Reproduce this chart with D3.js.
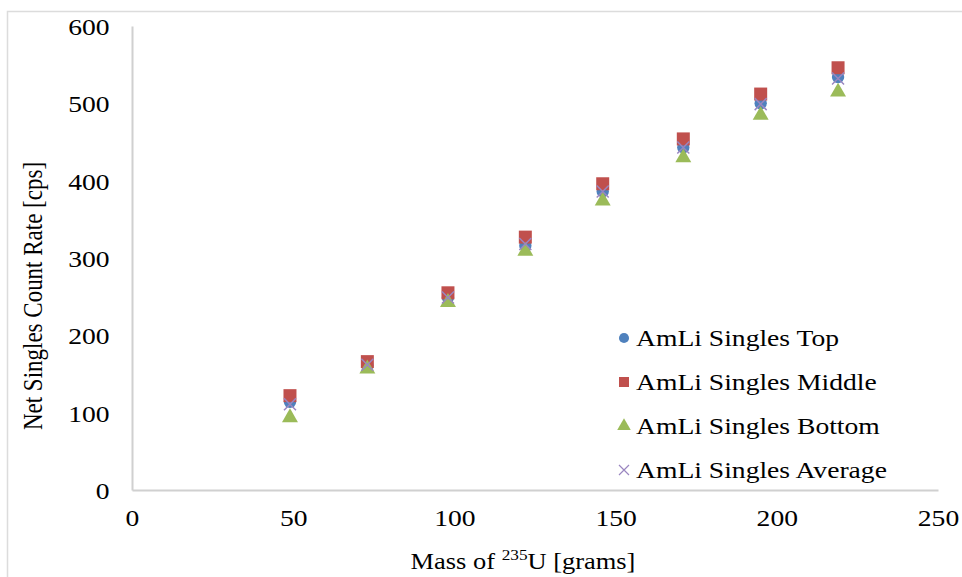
<!DOCTYPE html>
<html>
<head>
<meta charset="utf-8">
<script src="https://cdn.jsdelivr.net/npm/d3@7"></script>
<style>
html,body{margin:0;padding:0;background:#fff;}
text{font-family:"Liberation Serif","Times New Roman",serif;fill:#000;}
</style>
</head>
<body>
<svg id="chart" width="962" height="577"></svg>
<script>
const mass = [49, 73, 98, 122, 146, 171, 195, 219];
const singlesTop = [114, 161, 249, 316, 386, 443, 500, 534];
const singlesMiddle = [122, 166, 255, 327, 396, 454, 512, 546];
const singlesBottom = [95, 158, 244, 310, 375, 431, 486, 516];
const singlesAverage = [111, 162, 249, 318, 386, 443, 499, 532];
const xTicks = [0, 50, 100, 150, 200, 250];
const yTicks = [0, 100, 200, 300, 400, 500, 600];
const seriesNames = ["AmLi Singles Top", "AmLi Singles Middle", "AmLi Singles Bottom", "AmLi Singles Average"];

const SX = 1.15; // reference text is horizontally stretched
const svg = d3.select("#chart");
const x = d3.scaleLinear().domain([0, 250]).range([132, 938]);
const y = d3.scaleLinear().domain([0, 600]).range([490, 26]);

// outer chart border (cropped on right and bottom)
svg.append("path").attr("d", "M7.5,577 L7.5,11.5 L962,11.5")
  .attr("fill", "none").attr("stroke", "#dcdcdc").attr("stroke-width", 1.5);

// axes
const xAxis = svg.append("g").attr("transform", `translate(0,${y(0)})`)
  .call(d3.axisBottom(x).tickValues(xTicks).tickSize(0).tickPadding(19));
const yAxis = svg.append("g").attr("transform", `translate(${x(0)},0)`)
  .call(d3.axisLeft(y).tickValues(yTicks).tickSize(0).tickPadding(19.5));
[xAxis, yAxis].forEach(g => {
  g.select(".domain").attr("stroke", "#d0d0d0").attr("stroke-width", 2);
  g.selectAll("text").style("font-family", "Liberation Serif, serif").style("font-size", "24px")
    .attr("fill", "#000").attr("transform", `scale(${SX},1)`);
});
xAxis.selectAll("text").attr("dy", "0.71em");
yAxis.selectAll("text").attr("dy", "0.35em");

const colors = ["#4F81BD", "#C0504D", "#9BBB59", "#9A86C0"];
const datasets = [singlesTop, singlesMiddle, singlesBottom, singlesAverage];
const symbols = [d3.symbolCircle, d3.symbolSquare, d3.symbolTriangle, null];
const sizes = [120, 169, 110, 0];

function drawMarker(g, i, cx, cy) {
  if (i === 3) {
    const s = 6;
    g.append("path").attr("d", `M${cx - s},${cy - s}L${cx + s},${cy + s}M${cx - s},${cy + s}L${cx + s},${cy - s}`)
      .attr("stroke", colors[3]).attr("stroke-width", 1.5).attr("fill", "none");
  } else {
    g.append("path").attr("d", d3.symbol().type(symbols[i]).size(sizes[i])())
      .attr("transform", `translate(${cx},${cy + (i === 2 ? 1 : 0)})`)
      .attr("fill", colors[i]);
  }
}

const plot = svg.append("g");
datasets.forEach((vals, i) => {
  const g = plot.append("g");
  vals.forEach((v, j) => drawMarker(g, i, x(mass[j]), y(v)));
});

// legend
const legend = svg.append("g");
seriesNames.forEach((name, i) => {
  const cy = 338 + i * 44;
  const g = legend.append("g");
  if (i === 3) {
    const s = 5;
    const cx = 624;
    g.append("path").attr("d", `M${cx - s},${cy - s}L${cx + s},${cy + s}M${cx - s},${cy + s}L${cx + s},${cy - s}`)
      .attr("stroke", colors[3]).attr("stroke-width", 1.2).attr("fill", "none");
  } else {
    g.append("path").attr("d", d3.symbol().type(symbols[i]).size(i === 1 ? 100 : 80)())
      .attr("transform", `translate(624,${cy})`).attr("fill", colors[i]);
  }
  g.append("text").attr("transform", `translate(636,${cy + 8}) scale(${SX},1)`)
    .style("font-size", "24px").text(name);
});

// axis titles
svg.append("text").attr("transform", "translate(42,296) scale(1.2,1) rotate(-90)")
  .attr("text-anchor", "middle").style("font-size", "23px")
  .text("Net Singles Count Rate [cps]");

const xt = svg.append("text").attr("transform", `translate(523,569) scale(${SX},1)`)
  .attr("text-anchor", "middle").style("font-size", "23px");
xt.append("tspan").text("Mass of ");
xt.append("tspan").attr("dy", -9).style("font-size", "15px").text("235");
xt.append("tspan").attr("dy", 9).text("U [grams]");
</script>
</body>
</html>
